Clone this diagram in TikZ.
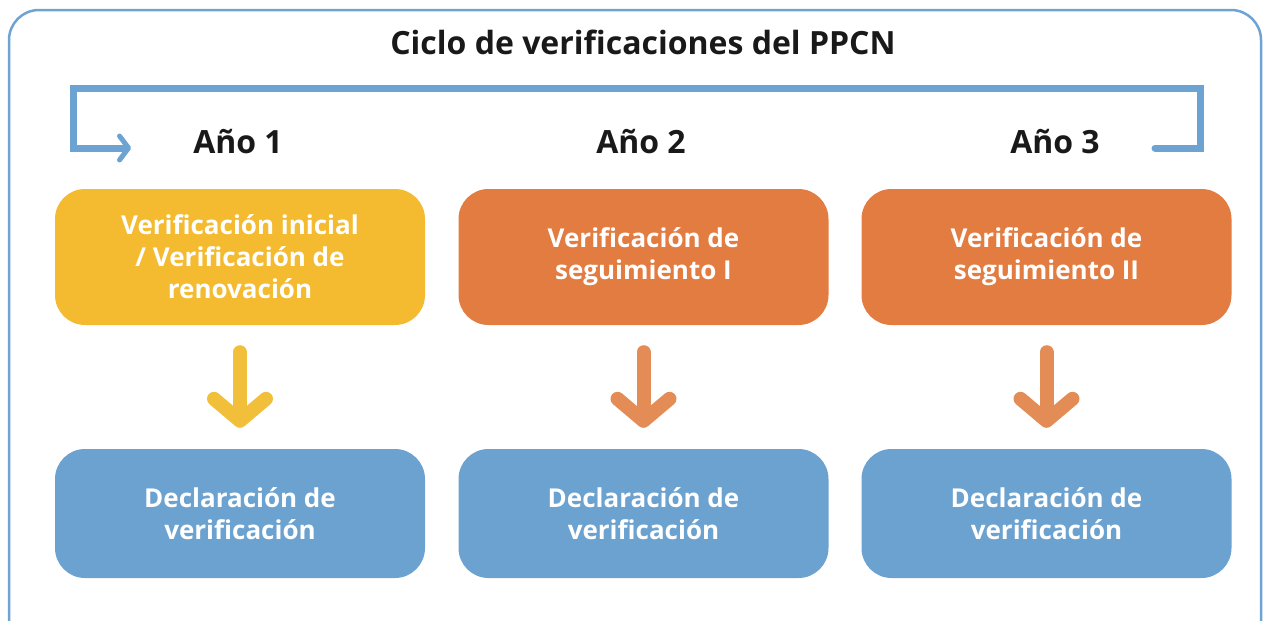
\documentclass[tikz,border=0pt]{standalone}
\usepackage{fontspec}
\setmainfont{Open Sans}
\usetikzlibrary{arrows.meta}
\definecolor{frameblue}{HTML}{6FA3D3}
\definecolor{loopblue}{HTML}{6DA3D2}
\definecolor{boxyellow}{HTML}{F4BA30}
\definecolor{boxorange}{HTML}{E27C40}
\definecolor{boxblue}{HTML}{6CA2D0}
\definecolor{arryellow}{HTML}{F2BF3A}
\definecolor{arrorange}{HTML}{E38C55}
\tikzstyle{checkbox}=[rounded corners=30pt,minimum width=370pt,inner sep=0pt,align=center,text=white,font=\bfseries\fontsize{26}{32}\selectfont]
\tikzstyle{yearlabel}=[font=\bfseries\fontsize{32}{38}\selectfont,text=black!90]
\tikzstyle{downarrow}=[draw,line width=14pt,line cap=round,-{Straight Barb[round,length=22pt,width=52pt,line width=14pt]}]

\begin{document}
\begin{tikzpicture}[x=1pt,y=-1pt]
    \useasboundingbox (0,0) rectangle (1269,621);

    % outer frame, its bottom edge lies outside the picture
    \draw[frameblue, line width=2.5pt, rounded corners=30pt] (9,10) rectangle (1261,660);

    \node[font=\bfseries\fontsize{32}{38}\selectfont, text=black!90] (title) at (643,42) {Ciclo de verificaciones del PPCN};

    \foreach \pos/\name/\text in {{(238,142)/y1/Año 1}, {(641,142)/y2/Año 2}, {(1055,142)/y3/Año 3}}
        \node[yearlabel] (\name) at \pos {\text};

    % verifications
    \node[checkbox, fill=boxyellow, minimum height=136pt] (v1) at (240,257) {Verificación inicial\\/ Verificación de\\renovación};
    \foreach \pos/\name/\text in {{(643.5,257)/v2/Verificación de\\seguimiento I}, {(1046.5,257)/v3/Verificación de\\seguimiento II}}
        \node[checkbox, fill=boxorange, minimum height=136pt] (\name) at \pos {\text};

    % declarations
    \foreach \pos/\name in {{(240,513.5)/d1}, {(643.5,513.5)/d2}, {(1046.5,513.5)/d3}}
        \node[checkbox, fill=boxblue, minimum height=129pt] (\name) at \pos {Declaración de\\verificación};

    \draw[downarrow, arryellow, shorten <=27pt, shorten >=21pt] (v1) -- (d1);
    \foreach \source/\dest in {v2/d2, v3/d3}
        \draw[downarrow, arrorange, shorten <=27pt, shorten >=21pt] (\source) -- (\dest);

    % cycle back from year 3 to year 1
    \coordinate (loopstart) at (1155,148);
    \coordinate (loopend) at (131,148);
    \draw[loopblue, line width=7pt, line cap=round, -{Straight Barb[round,length=9pt,width=24pt,line width=5pt]}]
        (loopstart) -- (1200,148) -- (1200,88) -- (73,88) -- (73,148) -- (loopend);
\end{tikzpicture}
\end{document}
